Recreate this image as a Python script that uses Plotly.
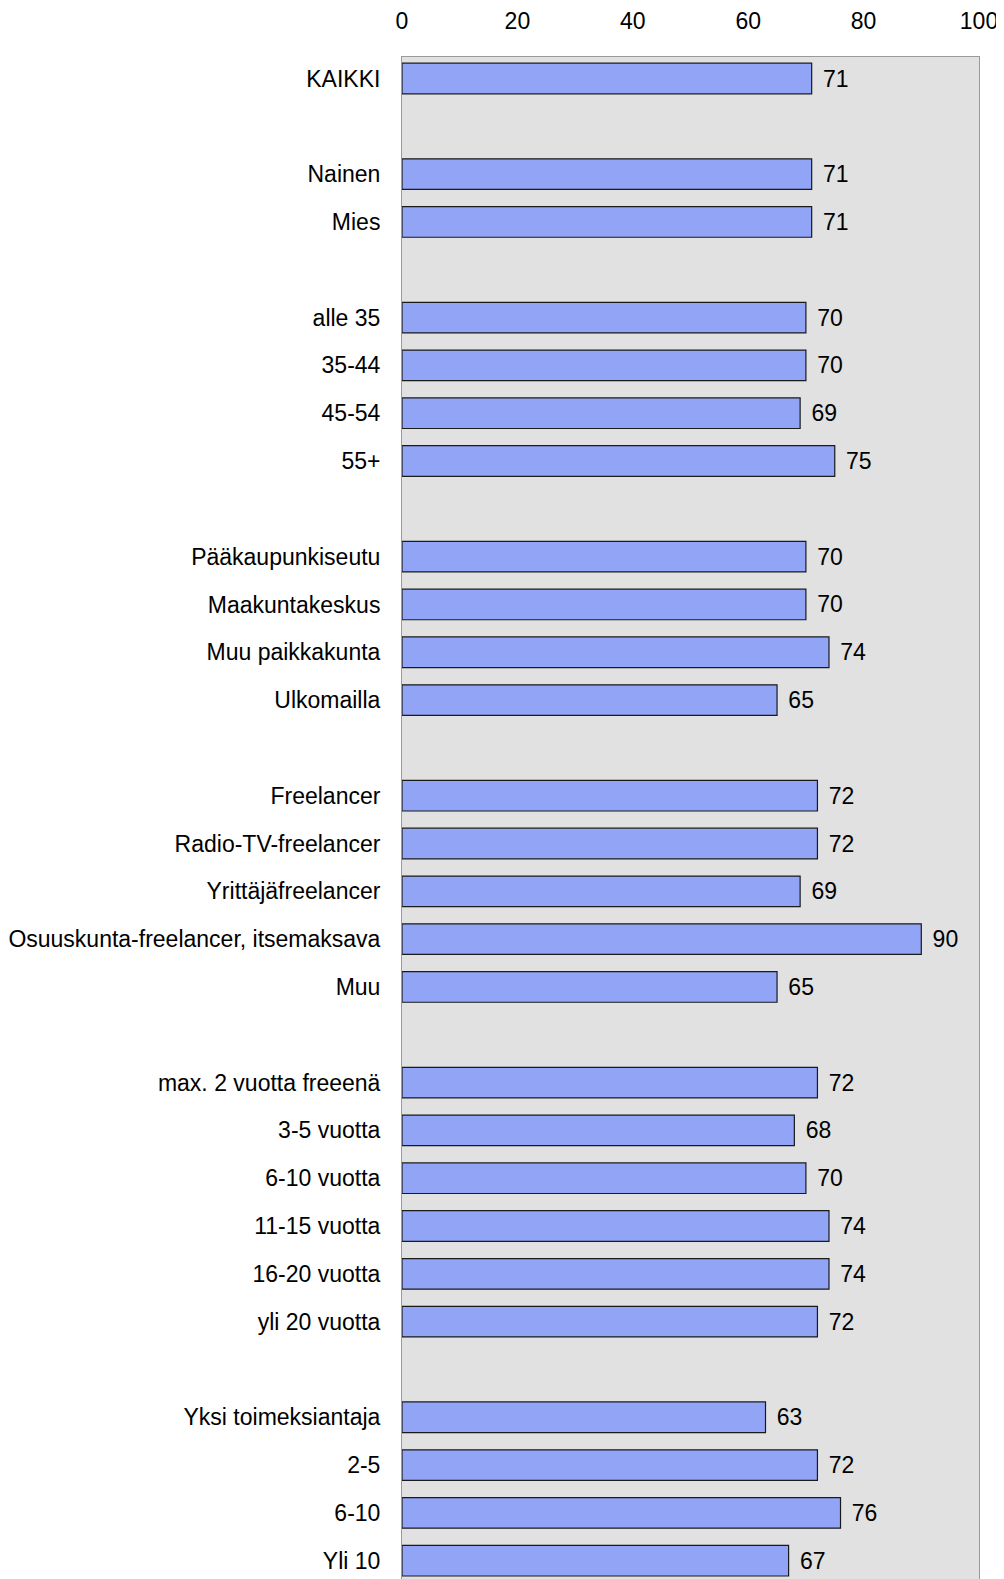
import plotly.graph_objects as go

# Categories in display order; blank strings are gaps between groups
categories = [
    "KAIKKI", " ",
    "Nainen", "Mies", "  ",
    "alle 35", "35-44", "45-54", "55+", "   ",
    "Pääkaupunkiseutu", "Maakuntakeskus", "Muu paikkakunta", "Ulkomailla", "    ",
    "Freelancer", "Radio-TV-freelancer", "Yrittäjäfreelancer",
    "Osuuskunta-freelancer, itsemaksava", "Muu", "     ",
    "max. 2 vuotta freeenä", "3-5 vuotta", "6-10 vuotta", "11-15 vuotta",
    "16-20 vuotta", "yli 20 vuotta", "      ",
    "Yksi toimeksiantaja", "2-5", "6-10", "Yli 10",
]
values = [
    71, None,
    71, 71, None,
    70, 70, 69, 75, None,
    70, 70, 74, 65, None,
    72, 72, 69, 90, 65, None,
    72, 68, 70, 74, 74, 72, None,
    63, 72, 76, 67,
]
x_ticks = [0, 20, 40, 60, 80, 100]

bar_color = "#92A4F6"
font_family = "Liberation Sans, Arial, sans-serif"

labels = ["" if v is None else f" \u200a{v}" for v in values]

fig = go.Figure()
fig.add_trace(go.Bar(
    x=values,
    y=categories,
    orientation="h",
    width=0.64,
    marker=dict(color=bar_color, line=dict(color="#1a1a1a", width=1.2)),
    text=labels,
    textposition="outside",
    constraintext="none",
    cliponaxis=False,
    textfont=dict(size=23, color="black", family=font_family),
    hoverinfo="x+y",
))

# page body has an 8px margin, so the figure is sized to fit beside it;
# the plot runs past the bottom edge of the window like the original
fig.update_layout(
    width=996,
    height=1580,
    margin=dict(l=392, r=25, t=44, b=0),
    paper_bgcolor="white",
    plot_bgcolor="#E1E1E1",
    showlegend=False,
    font=dict(family=font_family, size=23, color="black"),
    xaxis=dict(
        side="top",
        range=[0, 100],
        tickvals=x_ticks,
        showgrid=False,
        zeroline=False,
        showline=True,
        linecolor="#9a9a9a",
        linewidth=1,
        mirror=True,
        ticks="",
        ticklabelstandoff=18,
        tickfont=dict(size=23),
    ),
    yaxis=dict(
        type="category",
        categoryorder="array",
        categoryarray=categories,
        range=[31.55, -0.45],
        showgrid=False,
        zeroline=False,
        showline=True,
        linecolor="#9a9a9a",
        linewidth=1,
        mirror=True,
        ticks="",
        ticklabelstandoff=16,
        tickfont=dict(size=23),
    ),
)

fig.write_html("out.html")
